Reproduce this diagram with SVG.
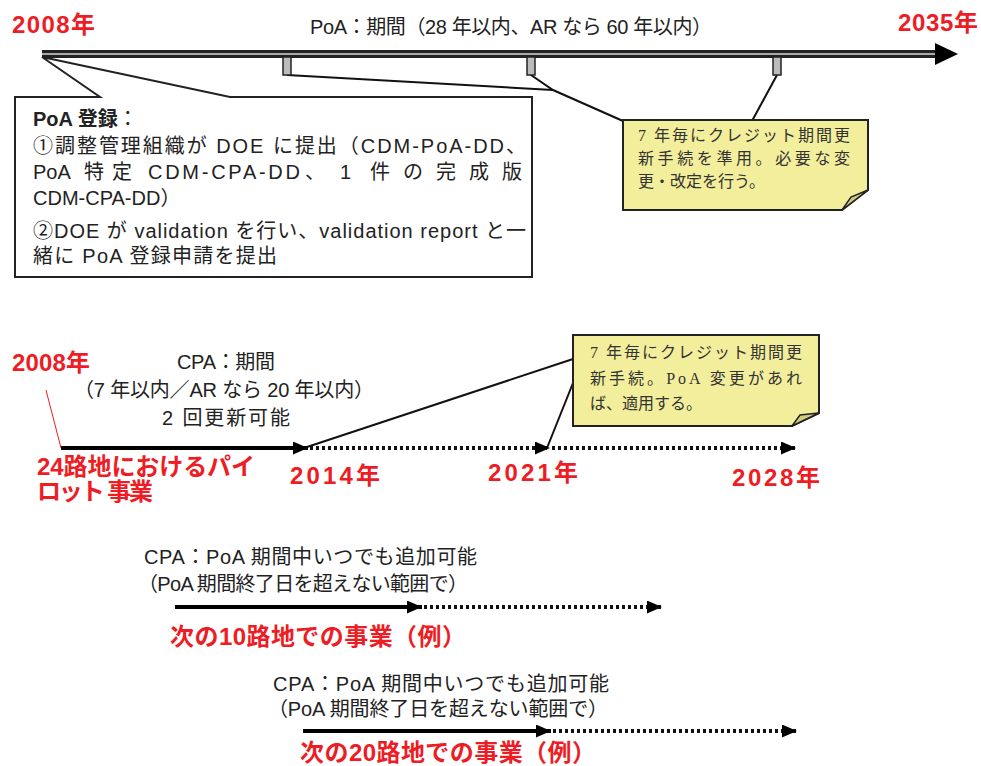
<svg xmlns="http://www.w3.org/2000/svg" width="981" height="766" viewBox="0 0 981 766">
<defs>
<style>
.t{font-family:'Liberation Sans','Noto Sans CJK JP',sans-serif;fill:#222;font-size:20px}
.r{font-family:'Liberation Sans','Noto Sans CJK JP',sans-serif;fill:#ee1c24;font-weight:bold;font-size:24px}
.n{font-family:'Liberation Serif','Noto Sans CJK JP',serif;fill:#333;font-size:16px}
.note{fill:#f2ee9c;stroke:#222;stroke-width:2}
.flap{fill:#d2cd7e;stroke:#222;stroke-width:1.5}
.ptr{fill:none;stroke:#111;stroke-width:2}
.solid{stroke:#000;stroke-width:4;fill:none}
.dot{stroke:#111;stroke-width:4;stroke-dasharray:3 3;fill:none}
.tick{fill:#bbb;stroke:#222;stroke-width:1.5}
</style>
<marker id="ah" markerUnits="userSpaceOnUse" markerWidth="15" markerHeight="13" refX="15" refY="6.5" orient="auto"><path d="M0,0 L15,6.5 L0,13 z" fill="#000"/></marker>
</defs>
<rect width="981" height="766" fill="#fff"/>

<g id="connectors">
<path class="ptr" d="M287,75 L553,90"/>
<path class="ptr" d="M531,75 L553,90 L623,121"/>
<path class="ptr" d="M777,75 L752,121"/>
<path class="ptr" d="M307,447 L573,359"/>
<path class="ptr" d="M573,383 L547,448"/>
<line x1="46" y1="390" x2="61" y2="448" stroke="#ee1c24" stroke-width="1"/>
<line class="solid" x1="61" y1="448" x2="308" y2="448" marker-end="url(#ah)"/>
<line class="dot" x1="310" y1="448" x2="550" y2="448" marker-end="url(#ah)"/>
<line class="dot" x1="552" y1="448" x2="796" y2="448" marker-end="url(#ah)"/>
<line class="solid" x1="175" y1="607" x2="422" y2="607" marker-end="url(#ah)"/>
<line class="dot" x1="424" y1="607" x2="662" y2="607" marker-end="url(#ah)"/>
<line class="solid" x1="303" y1="731" x2="551" y2="731" marker-end="url(#ah)"/>
<line class="dot" x1="553" y1="731" x2="797" y2="731" marker-end="url(#ah)"/>
</g>

<g id="poa-timeline">
<rect x="42" y="50" width="895" height="8" fill="#222"/>
<rect x="42" y="53" width="895" height="2" fill="#aaa"/>
<polygon points="935,43 958,54 935,65" fill="#000"/>
<rect class="tick" x="283" y="57" width="8" height="18"/>
<rect class="tick" x="527" y="57" width="8" height="18"/>
<rect class="tick" x="773" y="57" width="8" height="18"/>
<text class="t" x="310" y="34" font-size="19" textLength="402">PoA：期間（28 年以内、AR なら 60 年以内）</text>
<text class="r" x="12" y="33" font-size="22" textLength="83">2008年</text>
<text class="r" x="898" y="31" font-size="22" textLength="80">2035年</text>
</g>

<g id="poa-registration">
<polygon points="15,97 100,97 42,57 230,97 532,97 532,277 15,277" fill="#fff" stroke="#222" stroke-width="2"/>
<text class="t" x="33" y="126"><tspan font-weight="bold">PoA 登録</tspan>：</text>
<text class="t" x="33" y="153" textLength="493">①調整管理組織が DOE に提出（CDM-PoA-DD、</text>
<text class="t" y="179"><tspan x="33">PoA</tspan><tspan x="84">特</tspan><tspan x="112">定</tspan><tspan x="148" textLength="152">CDM-CPA-DD</tspan><tspan x="305">、</tspan><tspan x="340">1</tspan><tspan x="370">件</tspan><tspan x="403">の</tspan><tspan x="436">完</tspan><tspan x="469">成</tspan><tspan x="502">版</tspan></text>
<text class="t" x="33" y="205">CDM-CPA-DD）</text>
<text class="t" x="33" y="238" textLength="493">②DOE が validation を行い、validation report と一</text>
<text class="t" x="33" y="263" textLength="244">緒に PoA 登録申請を提出</text>
</g>

<g id="note-renewal-poa">
<polygon class="note" points="623,120 868,120 868,190 842,210 623,210"/>
<polygon class="flap" points="842,210 851,197 868,190"/>
<text class="n" x="638" y="141" textLength="212">7 年毎にクレジット期間更</text>
<text class="n" x="638" y="164" textLength="212">新手続を準用。必要な変</text>
<text class="n" x="638" y="187">更・改定を行う。</text>
</g>

<g id="cpa-timeline">
<text class="r" x="12" y="371" font-size="22" textLength="78">2008年</text>
<text class="t" x="177" y="369" font-size="19" textLength="98">CPA：期間</text>
<text class="t" x="74" y="397" font-size="19" textLength="300">（7 年以内／AR なら 20 年以内）</text>
<text class="t" x="162" y="425" font-size="19" textLength="128">2 回更新可能</text>
<text class="r" x="37" y="475" font-size="22" textLength="218">24路地におけるパイ</text>
<text class="r" x="37" y="500" font-size="22" textLength="116">ロット 事業</text>
<text class="r" x="290" y="484" textLength="90">2014年</text>
<text class="r" x="488" y="481" textLength="90">2021年</text>
<text class="r" x="732" y="486" textLength="88">2028年</text>
</g>

<g id="note-renewal-cpa">
<polygon class="note" points="573,335 819,335 819,413 792,426 573,426"/>
<polygon class="flap" points="792,426 800,415 819,413"/>
<text class="n" x="590" y="358" textLength="212">7 年毎にクレジット期間更</text>
<text class="n" x="590" y="384" textLength="212">新手続。PoA 変更があれ</text>
<text class="n" x="590" y="409">ば、適用する。</text>
</g>

<g id="cpa-10">
<text class="t" x="144" y="564" font-size="19.5" textLength="333">CPA：PoA 期間中いつでも追加可能</text>
<text class="t" x="138" y="591" font-size="19.5" textLength="330">（PoA 期間終了日を超えない範囲で）</text>
<text class="r" x="170" y="645" textLength="296">次の10路地での事業（例）</text>
</g>

<g id="cpa-20">
<text class="t" x="273" y="691" font-size="19.5" textLength="336">CPA：PoA 期間中いつでも追加可能</text>
<text class="t" x="268" y="716" font-size="19.5" textLength="340">（PoA 期間終了日を超えない範囲で）</text>
<text class="r" x="300" y="761" textLength="296">次の20路地での事業（例）</text>
</g>
</svg>
